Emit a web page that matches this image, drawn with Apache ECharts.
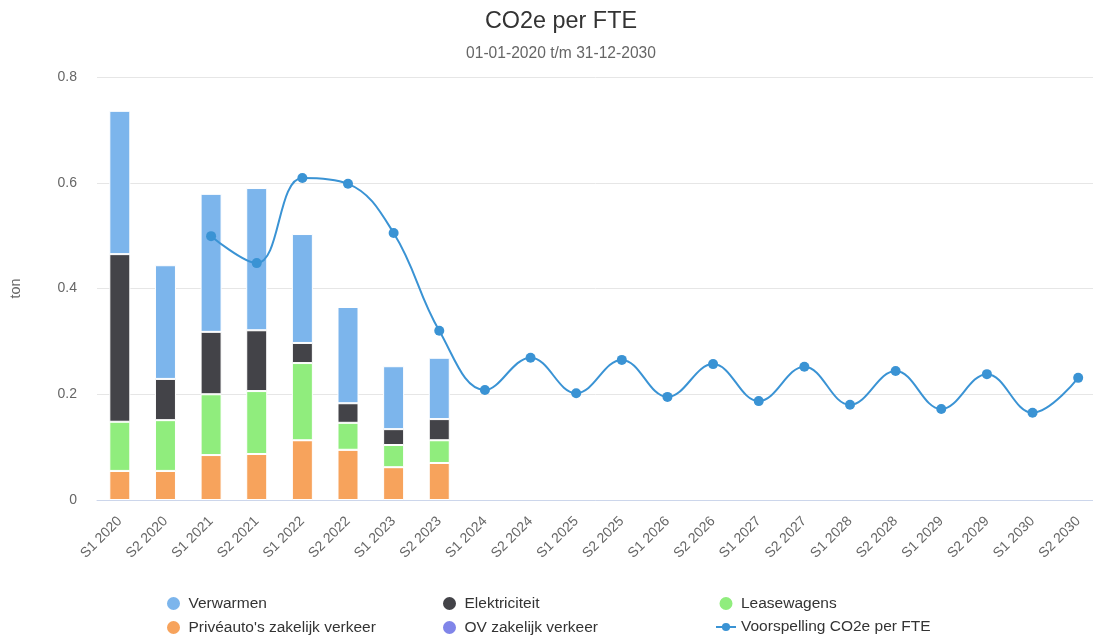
<!DOCTYPE html>
<html><head><meta charset="utf-8">
<script src="https://cdn.jsdelivr.net/npm/echarts@6/dist/echarts.min.js"></script>
<style>html,body{margin:0;padding:0;background:#fff}#c{width:1093px;height:639px}</style>
</head><body><div id="c"></div>
<script>
const categories = ["S1 2020","S2 2020","S1 2021","S2 2021","S1 2022","S2 2022","S1 2023","S2 2023",
  "S1 2024","S2 2024","S1 2025","S2 2025","S1 2026","S2 2026","S1 2027","S2 2027",
  "S1 2028","S2 2028","S1 2029","S2 2029","S1 2030","S2 2030"];
const yTicks = [0, 0.2, 0.4, 0.6, 0.8];
const privéauto = [0.055,0.055,0.085,0.087,0.113,0.095,0.062,0.070];
const leasewagens = [0.093,0.096,0.115,0.119,0.146,0.051,0.042,0.043];
const elektriciteit = [0.317,0.078,0.118,0.115,0.038,0.037,0.030,0.040];
const ovZakelijk = [0,0,0,0,0,0,0,0];
const verwarmen = [0.271,0.215,0.261,0.269,0.206,0.182,0.119,0.116];
const voorspelling = [null,null,0.499,0.448,0.609,0.598,0.505,0.320,
  0.208,0.269,0.202,0.265,0.195,0.257,0.187,0.252,0.180,0.244,0.172,0.238,0.165,0.231];

const FONT = 'Liberation Sans, Arial, sans-serif';
const COLORS = {verw:"#7cb5ec", elek:"#434348", lease:"#90ed7d", prive:"#f7a35c", ov:"#8085e9", line:"#3a93d4"};
const chart = echarts.init(document.getElementById('c'), null, {renderer:'canvas'});
function bar(name, data, color){
  return {name, type:'bar', stack:'s', data, barWidth:21,
    itemStyle:{color, borderColor:'#fff', borderWidth:1}, emphasis:{disabled:true}, z:2};
}
const lineIcon = 'path://M0,6.5 L22,6.5 L22,8.5 L0,8.5 Z M6.5,7.5 A4.5,4.5 0 1,1 15.5,7.5 A4.5,4.5 0 1,1 6.5,7.5 Z';
function legend(left, data){
  return {orient:'vertical', left, top:595, padding:0, itemGap:7, itemWidth:20, itemHeight:15,
    icon:'circle', data,
    textStyle:{color:'#333', fontSize:15.5, fontFamily:FONT}};
}
chart.setOption({
  animation:false,
  title:[
    {text:'CO2e per FTE', left:556, textAlign:'center', top:5,
     textStyle:{fontSize:23.4, fontWeight:'normal', color:'#333', fontFamily:FONT}},
    {text:'01-01-2020 t/m 31-12-2030', left:556, textAlign:'center', top:41,
     textStyle:{fontSize:15.6, fontWeight:'normal', color:'#666', fontFamily:FONT}}
  ],
  legend:[
    legend(165, ['Verwarmen',"Privéauto's zakelijk verkeer"]),
    legend(441, ['Elektriciteit','OV zakelijk verkeer']),
    legend(716, ['Leasewagens',{name:'Voorspelling CO2e per FTE', icon:lineIcon}])
  ],
  grid:{left:97, top:77, width:1004, height:423, containLabel:false, outerBoundsMode:'none'},
  xAxis:{type:'category', data:categories,
    axisLine:{lineStyle:{color:'#ccd6eb'}}, axisTick:{show:false},
    axisLabel:{rotate:45, color:'#666', fontSize:14, margin:19, interval:0, fontFamily:FONT}},
  yAxis:{type:'value', min:yTicks[0], max:yTicks[yTicks.length-1], interval:0.2,
    name:'ton', nameLocation:'middle', nameGap:74, nameTextStyle:{color:'#666', fontSize:14.5, fontFamily:FONT},
    axisLabel:{color:'#666', fontSize:14, margin:20, fontFamily:FONT, formatter:v=>String(Math.round(v*10)/10)},
    splitLine:{lineStyle:{color:'#e6e6e6'}}, axisLine:{show:false}, axisTick:{show:false}},
  series:[
    bar("Privéauto's zakelijk verkeer", privéauto, COLORS.prive),
    bar('OV zakelijk verkeer', ovZakelijk, COLORS.ov),
    bar('Leasewagens', leasewagens, COLORS.lease),
    bar('Elektriciteit', elektriciteit, COLORS.elek),
    bar('Verwarmen', verwarmen, COLORS.verw),
    {name:'Voorspelling CO2e per FTE', type:'line', data:voorspelling, smooth:0.4, connectNulls:false,
     symbol:'circle', symbolSize:10, showSymbol:true,
     lineStyle:{color:COLORS.line, width:2}, itemStyle:{color:COLORS.line}, z:5}
  ]
});
</script></body></html>
